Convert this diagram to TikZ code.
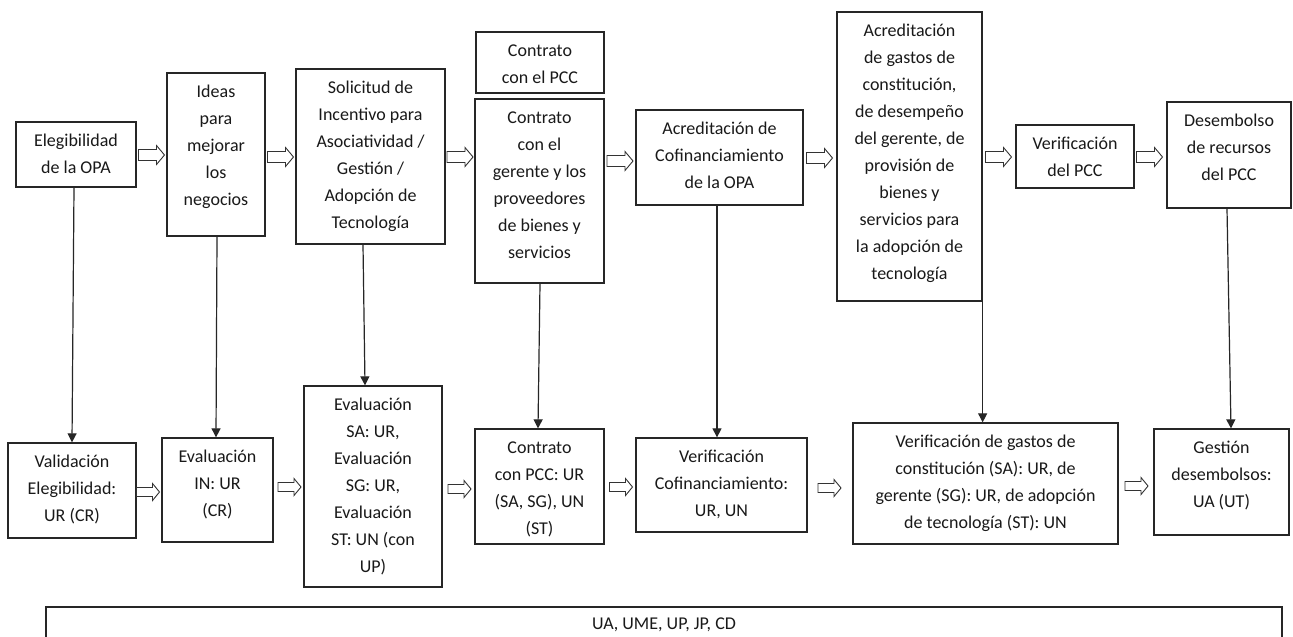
\documentclass[tikz,border=0pt]{standalone}
\usepackage{fontspec}
\setmainfont{Carlito}
\usetikzlibrary{arrows.meta,calc}
\newcommand\lns[1]{\begin{tabular}[t]{@{}c@{}}#1\end{tabular}}
\begin{document}
\begin{tikzpicture}[x=1pt,y=-1pt,
  box/.style={draw=black!85,line width=1.3pt,inner sep=0pt,rectangle},
  txt/.style={inner sep=0pt,anchor=base,text=black!90,font=\fontsize{18pt}{27pt}\selectfont},
  hline/.style={draw=black!80,fill=white,line width=0.9pt,line join=miter},
  hollow/.pic={\path[hline] (-13,-5.5) -- (5,-5.5) -- (5,-9.5) -- (13,0) -- (5,9.5) -- (5,5.5) -- (-13,5.5) -- cycle;},
  hollowb/.pic={\path[hline] (-11.5,-4.5) -- (4.5,-4.5) -- (4.5,-8.5) -- (11.5,0) -- (4.5,8.5) -- (4.5,4.5) -- (-11.5,4.5) -- cycle;},
  conn/.style={draw=black!85,line width=1.2pt,-{Triangle[length=9pt,width=9pt]}}]
\useasboundingbox (0,0) rectangle (1293,637);
\fill[white] (0,0) rectangle (1293,637);
\clip (0,0) rectangle (1293,637);
% top row boxes
\node[box,minimum width=120pt,minimum height=65pt] (e1) at (76,154.5) {};
\node[box,minimum width=98pt,minimum height=163pt] (e2) at (216,154.5) {};
\node[box,minimum width=149pt,minimum height=175pt] (e3) at (370.5,156.5) {};
\node[box,minimum width=128pt,minimum height=61pt] (e4a) at (540,62.5) {};
\node[box,minimum width=129pt,minimum height=184pt] (e4) at (539.5,191) {};
\node[box,minimum width=167pt,minimum height=95pt] (e5) at (719.5,157.5) {};
\node[box,minimum width=145pt,minimum height=289pt] (e6) at (909.5,156.5) {};
\node[box,minimum width=118pt,minimum height=63pt] (e7) at (1075,156.5) {};
\node[box,minimum width=124pt,minimum height=106pt] (e8) at (1229,155) {};
% bottom row boxes
\node[box,minimum width=128pt,minimum height=95pt] (b1) at (72,490.5) {};
\node[box,minimum width=111pt,minimum height=104pt] (b2) at (217.5,490) {};
\node[box,minimum width=138pt,minimum height=201pt] (b3) at (373,486.5) {};
\node[box,minimum width=129pt,minimum height=115pt] (b4) at (539.5,486.5) {};
\node[box,minimum width=171pt,minimum height=94pt] (b5) at (721.5,485) {};
\node[box,minimum width=265pt,minimum height=121pt] (b6) at (985.5,483.5) {};
\node[box,minimum width=135pt,minimum height=106pt] (b7) at (1221.5,482) {};
\node[box,minimum width=1236pt,minimum height=36pt,font=\fontsize{18pt}{27pt}\selectfont,text=black!90] (bot) at (664,625) {UA, UME, UP, JP, CD};
% texts
\node[txt] (e1t) at ([yshift=-25pt]e1.north) {\lns{Elegibilidad\\de la OPA}};
\node[txt] (e2t) at ([yshift=-25pt]e2.north) {\lns{Ideas\\para\\mejorar\\los\\negocios}};
\node[txt] (e3t) at ([yshift=-25pt]e3.north) {\lns{Solicitud de\\Incentivo para\\Asociatividad /\\Gestión /\\Adopción de\\Tecnología}};
\node[txt] (e4at) at ([yshift=-25pt]e4a.north) {\lns{Contrato\\con el PCC}};
\node[txt] (e4t) at ([yshift=-25pt]e4.north) {\lns{Contrato\\con el\\gerente y los\\proveedores\\de bienes y\\servicios}};
\node[txt] (e5t) at ([yshift=-25pt]e5.north) {\lns{Acreditación de\\Cofinanciamiento\\de la OPA}};
\node[txt] (e6t) at ([yshift=-25pt]e6.north) {\lns{Acreditación\\de gastos de\\constitución,\\de desempeño\\del gerente, de\\provisión de\\bienes y\\servicios para\\la adopción de\\tecnología}};
\node[txt] (e7t) at ([yshift=-25pt]e7.north) {\lns{Verificación\\del PCC}};
\node[txt] (e8t) at ([yshift=-25pt]e8.north) {\lns{Desembolso\\de recursos\\del PCC}};
\node[txt] (b1t) at ([yshift=-25pt]b1.north) {\lns{Validación\\Elegibilidad:\\UR (CR)}};
\node[txt] (b2t) at ([yshift=-25pt]b2.north) {\lns{Evaluación\\IN: UR\\(CR)}};
\node[txt] (b3t) at ([yshift=-25pt]b3.north) {\lns{Evaluación\\SA: UR,\\Evaluación\\SG: UR,\\Evaluación\\ST: UN (con\\UP)}};
\node[txt] (b4t) at ([yshift=-25pt]b4.north) {\lns{Contrato\\con PCC: UR\\(SA, SG), UN\\(ST)}};
\node[txt] (b5t) at ([yshift=-25pt]b5.north) {\lns{Verificación\\Cofinanciamiento:\\UR, UN}};
\node[txt] (b6t) at ([yshift=-25pt]b6.north) {\lns{Verificación de gastos de\\constitución (SA): UR, de\\gerente (SG): UR, de adopción\\de tecnología (ST): UN}};
\node[txt] (b7t) at ([yshift=-25pt]b7.north) {\lns{Gestión\\desembolsos:\\UA (UT)}};
% hollow arrows top
\pic (h1) at (151.5,155) {hollow};
\pic (h2) at (280.5,157) {hollow};
\pic (h3) at (460,157) {hollow};
\pic (h4) at (620,161) {hollow};
\pic (h5) at (819.5,158) {hollow};
\pic (h6) at (998.5,157) {hollow};
\pic (h7) at (1149.5,157) {hollow};
% hollow arrows bottom
\pic (g1) at (148,492) {hollowb};
\pic (g2) at (289.5,487) {hollowb};
\pic (g3) at (459.5,489) {hollowb};
\pic (g4) at (621,487) {hollowb};
\pic (g5) at (829.5,488) {hollowb};
\pic (g6) at (1136.5,486) {hollowb};
% vertical connectors
\draw[conn] ([xshift=-2pt]e1.south) -- (b1.north);
\draw[conn] ([xshift=1pt]e2.south) -- ([xshift=-1.5pt]b2.north);
\draw[conn] ([xshift=-7.5pt]e3.south) -- ([xshift=-8pt]b3.north);
\draw[conn] ([xshift=0.5pt]e4.south) -- ([xshift=-1.5pt]b4.north);
\draw[conn] ([xshift=-2.5pt]e5.south) -- ([xshift=-4.5pt]b5.north);
\draw[conn] (e6.south east) -- (e6.south east |- b6.north);
\draw[conn] ([xshift=-2pt]e8.south) -- ([xshift=9.5pt]b7.north);
\end{tikzpicture}
\end{document}
